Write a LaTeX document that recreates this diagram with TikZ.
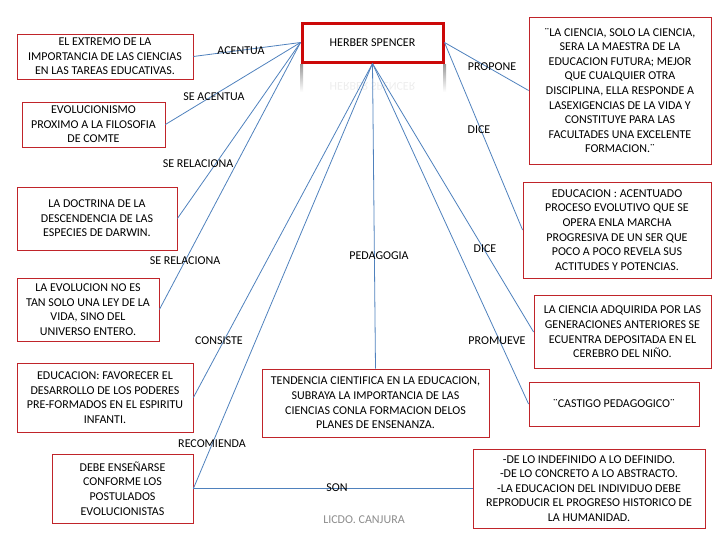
\documentclass[tikz,border=0pt]{standalone}
\usepackage{fontspec}
\setmainfont{Carlito}
\usepackage{tikz}
\usepackage{xcolor}
\usetikzlibrary{positioning}
\definecolor{boxred}{RGB}{192,36,42}
\definecolor{titlered}{RGB}{204,8,8}
\definecolor{linkblue}{RGB}{79,129,189}

\begin{document}
\begin{tikzpicture}[x=1pt,y=-1pt,
    font=\fontsize{12}{14.6}\selectfont,
    idea/.style={draw=boxred,line width=0.8pt,fill=white,align=center,
                 inner sep=2pt},
    title/.style={draw=titlered,line width=3pt,fill=white,align=center,
                  minimum width=141pt,minimum height=39pt},
    link/.style={draw=linkblue,line width=0.8pt},
    verb/.style={inner sep=1pt}]
    \useasboundingbox (0,0) rectangle (728,546);

    % reflejo bajo el titulo
    \shade[top color=black!40,bottom color=white] (300,64) rectangle (303,92);
    \shade[top color=black!40,bottom color=white] (443,64) rectangle (446,92);
    \node[text=black!7] (reflejo) at (372.5,86) {\scalebox{1}[-1]{HERBER SPENCER}};

    \node[title] (spencer) at (372.5,42.5) {HERBER SPENCER};

    % columna izquierda
    \node[idea,minimum width=176pt,minimum height=45pt] (ext) at (105,56.5)
        {EL EXTREMO DE LA\\IMPORTANCIA DE LAS CIENCIAS\\EN LAS TAREAS EDUCATIVAS.};
    \node[idea,minimum width=143pt,minimum height=45pt] (evo) at (93.5,124.5)
        {EVOLUCIONISMO\\PROXIMO A LA FILOSOFIA\\DE COMTE};
    \node[idea,minimum width=160pt,minimum height=63pt] (darwin) at (97,218.5)
        {LA DOCTRINA DE LA\\DESCENDENCIA DE LAS\\ESPECIES DE DARWIN.};
    \node[idea,minimum width=142pt,minimum height=63pt] (universo) at (88,309.5)
        {LA EVOLUCION NO ES\\TAN SOLO UNA LEY DE LA\\VIDA, SINO DEL\\UNIVERSO ENTERO.};
    \node[idea,minimum width=176pt,minimum height=69pt] (poderes) at (105,397.5)
        {EDUCACION: FAVORECER EL\\DESARROLLO DE LOS PODERES\\PRE-FORMADOS EN EL ESPIRITU\\INFANTI.};
    \node[idea,minimum width=141pt,minimum height=69pt] (postulados) at (122.5,488.5)
        {DEBE ENSEÑARSE\\CONFORME LOS\\POSTULADOS\\EVOLUCIONISTAS};

    % centro
    \node[idea,minimum width=227pt,minimum height=68pt] (tendencia) at (375.5,403)
        {TENDENCIA CIENTIFICA EN LA EDUCACION,\\SUBRAYA LA IMPORTANCIA DE LAS\\CIENCIAS CONLA FORMACION DELOS\\PLANES DE ENSENANZA.};

    % columna derecha
    \node[idea,minimum width=182pt,minimum height=147pt] (ciencia) at (620,90.5)
        {¨LA CIENCIA, SOLO LA CIENCIA,\\SERA LA MAESTRA DE LA\\EDUCACION FUTURA; MEJOR\\QUE CUALQUIER OTRA\\DISCIPLINA, ELLA RESPONDE A\\LASEXIGENCIAS DE LA VIDA Y\\CONSTITUYE PARA LAS\\FACULTADES UNA EXCELENTE\\FORMACION.¨};
    \node[idea,minimum width=188pt,minimum height=96pt] (proceso) at (617,230)
        {EDUCACION : ACENTUADO\\PROCESO EVOLUTIVO QUE SE\\OPERA ENLA MARCHA\\PROGRESIVA DE UN SER QUE\\POCO A POCO REVELA SUS\\ACTITUDES Y POTENCIAS.};
    \node[idea,minimum width=177pt,minimum height=73pt] (nino) at (622.5,332)
        {LA CIENCIA ADQUIRIDA POR LAS\\GENERACIONES ANTERIORES SE\\ECUENTRA DEPOSITADA EN EL\\CEREBRO DEL NIÑO.};
    \node[idea,minimum width=170pt,minimum height=44pt] (castigo) at (614,404)
        {¨CASTIGO PEDAGOGICO¨};
    \node[idea,minimum width=232pt,minimum height=79pt] (etapas) at (589,488.5)
        {-DE LO INDEFINIDO A LO DEFINIDO.\\-DE LO CONCRETO A LO ABSTRACTO.\\-LA EDUCACION DEL INDIVIDUO DEBE\\REPRODUCIR EL PROGRESO HISTORICO DE\\LA HUMANIDAD.};

    % conectores
    \draw[link] (ext.east) -- (spencer.west);
    \draw[link] (evo.east) -- (spencer.west);
    \draw[link] (darwin.east) -- (spencer.west);
    \draw[link] (universo.east) -- (spencer.west);
    \draw[link] (poderes.east) -- (spencer.south);
    \draw[link] (postulados.east) -- (spencer.south);
    \draw[link] (tendencia.north) -- (spencer.south);
    \draw[link] (nino.west) -- (spencer.south);
    \draw[link] (castigo.west) -- (spencer.south);
    \draw[link] (ciencia.west) -- (spencer.east);
    \draw[link] (proceso.west) -- (spencer.east);
    \draw[link] (postulados.east) -- (etapas.west);

    % verbos
    \node[verb] (acentua) at (241,51) {ACENTUA};
    \node[verb] (seacentua) at (214,97) {SE ACENTUA};
    \node[verb] (relaciona) at (198,164) {SE RELACIONA};
    \node[verb] (relaciona2) at (185,261) {SE RELACIONA};
    \node[verb] (consiste) at (219,341) {CONSISTE};
    \node[verb] (recomienda) at (212,444) {RECOMIENDA};
    \node[verb] (son) at (337,488) {SON};
    \node[verb] (pedagogia) at (379,256) {PEDAGOGIA};
    \node[verb] (propone) at (492,67) {PROPONE};
    \node[verb] (dice) at (479,130) {DICE};
    \node[verb] (dice2) at (485,249) {DICE};
    \node[verb] (promueve) at (497,341) {PROMUEVE};
    \node[verb,text=black!45] (autor) at (364,520) {LICDO. CANJURA};
\end{tikzpicture}
\end{document}
